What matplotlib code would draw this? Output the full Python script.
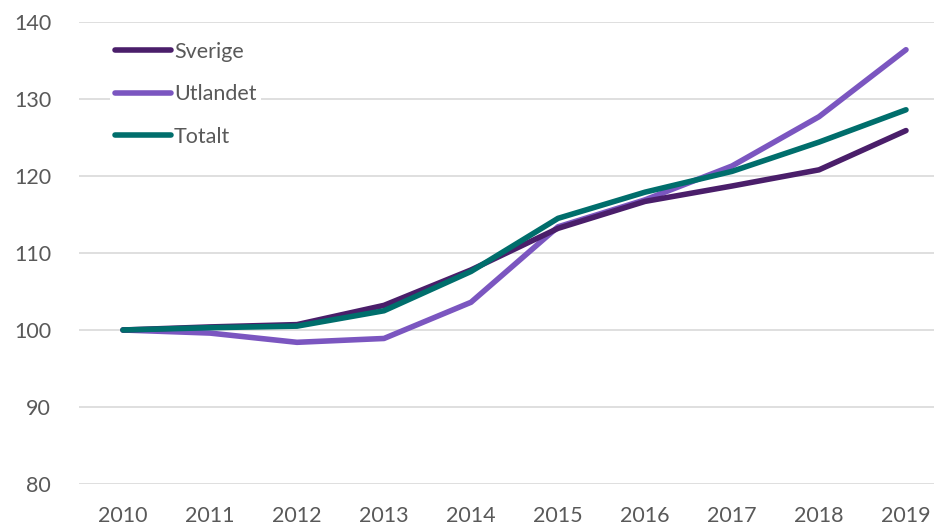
import matplotlib
matplotlib.use("Agg")
import matplotlib.pyplot as plt

years = [2010, 2011, 2012, 2013, 2014, 2015, 2016, 2017, 2018, 2019]
sverige = [100, 100.4, 100.7, 103.2, 107.8, 113.2, 116.7, 118.7, 120.8, 125.9]
utlandet = [100, 99.6, 98.4, 98.9, 103.6, 113.4, 116.9, 121.3, 127.7, 136.4]
totalt = [100, 100.3, 100.5, 102.5, 107.6, 114.5, 117.9, 120.6, 124.4, 128.6]
y_ticks = [80, 90, 100, 110, 120, 130, 140]

plt.rcParams["font.family"] = ["Lato", "DejaVu Sans"]
TEXT = "#595959"

fig = plt.figure(figsize=(9.34, 5.25), dpi=100)
ax = fig.add_axes([79 / 934, 1 - 484 / 525, 1 - 79 / 934, (484 - 22) / 525])

ax.plot(years, sverige, color="#4a1e6a", lw=4.0, solid_capstyle="round", label="Sverige", zorder=3)
ax.plot(years, utlandet, color="#7b56c0", lw=4.0, solid_capstyle="round", label="Utlandet", zorder=2)
ax.plot(years, totalt, color="#006e6c", lw=4.0, solid_capstyle="round", label="Totalt", zorder=4)

ax.set_ylim(80, 140)
ax.set_xlim(2010 - 44 / 87, 2019 + 28 / 87)
ax.set_yticks(y_ticks)
ax.set_xticks(years)
ax.grid(axis="y", color="#d9d9d9", lw=1.2)
ax.set_axisbelow(True)
for s in ax.spines.values():
    s.set_visible(False)
ax.tick_params(length=0, labelsize=15.5, colors=TEXT)
ax.tick_params(axis="x", pad=16)
ax.tick_params(axis="y", pad=20)

leg = ax.legend(loc="upper left", bbox_to_anchor=(0.024, 0.99), frameon=True, fontsize=15.5,
                handlelength=2.6, handletextpad=0.15, labelspacing=1.05, borderpad=0.2,
                fancybox=False)
leg.get_frame().set_edgecolor("none")
leg.get_frame().set_facecolor("white")
leg.get_frame().set_alpha(1)
for t in leg.get_texts():
    t.set_color(TEXT)

fig.savefig("out.png", dpi=100)
